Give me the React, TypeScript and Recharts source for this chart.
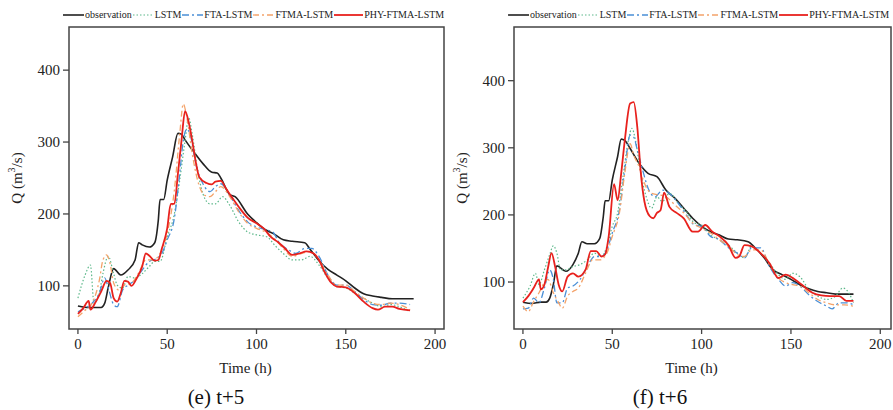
import React from "react";
import { LineChart, Line, XAxis, YAxis, ReferenceArea } from "recharts";

const SERIF = '"Liberation Serif", Tinos, "Times New Roman", "DejaVu Serif", serif';

const OBS_C = "#222222";
const LSTM_C = "#5cb88a";
const FTA_C = "#4a8fd6";
const FTMA_C = "#f4a36a";
const PHY_C = "#e8211d";

const X_TICKS = [0, 50, 100, 150, 200];
const Y_TICKS = [100, 200, 300, 400];

// (e) t+5  -- [time (h), Q]
const E_OBS = [[0,72],[5,70],[13,70],[15,76],[17,98],[20,124],[24,115],[28,122],[32,136],[34,160],[36,157],[40,154],[43,160],[45,191],[46,220],[48,220],[50,247],[53,279],[56,312],[58,311],[60,303],[65,286],[70,270],[75,258],[78,257],[80,250],[85,227],[88,224],[95,200],[100,188],[105,178],[110,172],[115,164],[120,162],[127,160],[130,151],[135,135],[140,123],[145,115],[150,107],[155,97],[160,89],[165,86],[170,84],[176,82],[188,82]];
const E_LSTM = [[0,83],[4,115],[7,129],[9,76],[12,90],[14,117],[17,141],[20,117],[22,101],[25,97],[28,113],[32,111],[36,117],[40,127],[43,134],[46,134],[50,168],[54,200],[57,247],[60,302],[62,334],[64,311],[67,261],[70,228],[74,214],[77,214],[81,224],[85,212],[90,189],[95,175],[100,171],[106,168],[110,157],[115,145],[120,136],[125,136],[130,141],[135,129],[140,111],[145,99],[150,97],[155,90],[160,83],[165,76],[170,71],[175,74],[180,71],[186,64]];
const E_FTA = [[0,64],[4,69],[8,76],[12,90],[15,111],[17,97],[20,74],[22,71],[25,94],[28,101],[32,108],[36,122],[40,134],[44,138],[47,145],[50,164],[54,194],[57,256],[59,302],[61,318],[63,309],[66,270],[70,242],[74,231],[77,238],[80,242],[85,226],[90,205],[95,189],[100,182],[105,178],[109,175],[113,159],[118,150],[122,145],[127,152],[131,152],[135,141],[140,115],[145,101],[150,101],[155,92],[160,81],[165,74],[170,73],[175,76],[180,76],[186,74]];
const E_FTMA = [[0,57],[4,66],[8,76],[12,108],[14,136],[16,143],[18,131],[20,104],[23,94],[26,101],[30,104],[34,118],[38,136],[42,136],[46,145],[50,173],[54,233],[57,311],[59,353],[61,334],[64,284],[67,247],[71,226],[74,224],[77,231],[80,238],[85,224],[90,203],[95,187],[100,180],[105,175],[110,166],[115,152],[120,141],[125,145],[130,148],[135,136],[140,115],[145,101],[150,101],[155,92],[160,83],[165,76],[170,74],[175,76],[180,74],[186,67]];
const E_PHY = [[0,61],[3,69],[6,79],[7,67],[10,78],[13,92],[16,107],[18,104],[20,83],[22,78],[24,90],[26,107],[28,106],[30,100],[33,111],[36,127],[38,145],[40,142],[43,135],[45,136],[47,152],[50,180],[52,214],[54,214],[56,256],[58,302],[60,343],[62,328],[64,302],[66,272],[68,251],[72,243],[75,241],[77,245],[80,246],[83,235],[86,224],[90,210],[95,195],[100,187],[104,180],[108,168],[112,161],[116,152],[120,143],[124,145],[128,148],[132,145],[135,136],[138,120],[142,104],[145,99],[150,98],[155,90],[160,78],[165,69],[168,67],[172,71],[176,71],[180,68],[186,66]];

// (f) t+6
const F_OBS = [[0,70],[5,68],[10,70],[13,70],[15,76],[17,96],[19,124],[24,116],[28,126],[31,143],[33,160],[36,157],[40,157],[43,165],[45,198],[46,221],[48,221],[50,252],[53,287],[55,313],[57,311],[60,299],[65,277],[70,262],[75,257],[80,237],[85,225],[90,210],[95,195],[100,183],[105,175],[110,170],[115,164],[120,163],[126,160],[130,151],[135,136],[140,118],[145,111],[150,104],[155,96],[160,90],[165,86],[170,84],[175,82],[185,82]];
const F_LSTM = [[0,76],[4,94],[7,113],[9,96],[12,118],[15,141],[17,154],[19,143],[21,118],[24,118],[28,123],[32,126],[36,133],[40,143],[44,138],[47,153],[50,183],[53,203],[56,257],[59,311],[61,329],[63,311],[66,262],[69,227],[72,210],[75,227],[78,220],[82,232],[87,217],[92,203],[96,188],[100,185],[105,170],[110,163],[115,155],[120,143],[124,136],[128,153],[133,143],[138,128],[143,111],[147,104],[151,113],[155,108],[160,89],[165,79],[170,74],[175,79],[179,91],[183,81],[185,69]];
const F_FTA = [[0,60],[3,61],[6,76],[9,69],[12,91],[15,118],[17,104],[19,69],[22,69],[25,91],[28,94],[32,104],[36,123],[40,138],[44,138],[47,148],[50,173],[54,207],[57,267],[60,319],[62,316],[64,297],[67,267],[70,240],[74,227],[78,237],[82,232],[87,217],[92,198],[96,185],[100,183],[105,168],[110,163],[115,151],[120,143],[124,136],[128,151],[133,151],[138,123],[143,104],[147,94],[151,99],[155,94],[160,81],[165,71],[170,64],[173,60],[177,69],[181,69],[185,66]];
const F_FTMA = [[0,64],[3,56],[6,71],[9,84],[12,99],[14,104],[17,84],[20,69],[22,61],[25,79],[28,86],[31,91],[35,113],[39,133],[43,133],[47,143],[50,168],[54,203],[57,262],[60,306],[62,289],[65,272],[68,247],[72,232],[76,230],[80,227],[85,215],[90,203],[95,188],[100,180],[105,173],[110,163],[115,153],[120,141],[124,138],[128,148],[133,148],[138,126],[143,106],[147,99],[151,96],[155,94],[160,84],[165,74],[170,69],[175,66],[180,66],[185,64]];
const F_PHY = [[0,70],[3,79],[6,91],[9,104],[10,89],[12,96],[14,121],[16,143],[18,123],[20,96],[22,86],[25,108],[28,113],[31,108],[35,118],[38,146],[41,146],[44,138],[46,141],[48,168],[51,246],[53,222],[55,262],[57,311],[60,366],[62,368],[64,331],[66,262],[68,220],[71,198],[73,195],[75,203],[77,207],[79,233],[82,212],[86,203],[90,195],[95,175],[98,175],[102,185],[106,175],[110,168],[115,155],[119,136],[121,138],[124,155],[128,153],[133,143],[138,128],[143,106],[147,111],[152,104],[157,94],[162,84],[167,80],[172,79],[177,79],[181,72],[185,72]];

const SERIES = [
  { key: "observation", color: OBS_C, width: 1.6, dash: undefined },
  { key: "LSTM", color: LSTM_C, width: 1.2, dash: "1.5 2" },
  { key: "FTA-LSTM", color: FTA_C, width: 1.3, dash: "7 3 2 3" },
  { key: "FTMA-LSTM", color: FTMA_C, width: 1.3, dash: "6 3 2 3" },
  { key: "PHY-FTMA-LSTM", color: PHY_C, width: 1.8, dash: undefined },
];

const toPts = (arr: number[][]) => arr.map(([t, q]) => ({ t, q }));

const QLabel = () => (
  <text x={17} y={178} transform="rotate(-90 17 178)" textAnchor="middle" dominantBaseline="central"
    fontSize={15} fill="#222">
    Q (m<tspan dy={-6} fontSize={10}>3</tspan><tspan dy={6}>/s)</tspan>
  </text>
);

function Legend({ left }: { left: number }) {
  return (
    <div style={{ position: "absolute", left, top: 9, display: "flex", alignItems: "center", fontSize: 10, color: "#222", whiteSpace: "nowrap" }}>
      {SERIES.map((s, i) => {
        const w = i === 4 ? 29 : 21;
        return (
          <div key={s.key} style={{ display: "flex", alignItems: "center" }}>
            <svg width={w} height={10}>
              <line x1={0} y1={5} x2={w} y2={5} stroke={s.color} strokeWidth={s.width} strokeDasharray={s.dash} />
            </svg>
            <span style={{ marginLeft: 1, marginRight: 1 }}>{s.key}</span>
          </div>
        );
      })}
    </div>
  );
}

const tickStyle = { fontSize: 15, fill: "#222" };

function Panel({ data, xMax, yDomain, left, width }: { data: number[][][]; xMax: number; yDomain: [number, number]; left: number; width: number }) {
  return (
    <div style={{ position: "absolute", left, top: 0 }}>
      <LineChart width={width} height={380}
        margin={{ top: 27, right: width === 450 ? 6 : 2, left: 19, bottom: 7 }}>
        <XAxis type="number" dataKey="t" domain={[-5, xMax]} ticks={X_TICKS} allowDataOverflow axisLine={false}
          tickSize={5} tickMargin={4} height={44} tick={tickStyle}
          tickLine={{ stroke: "#444", strokeWidth: 1.3 }}
          label={{ value: "Time (h)", position: "insideBottom", offset: 0, dx: -11, fontSize: 15, fill: "#222" }} />
        <YAxis type="number" domain={yDomain} ticks={Y_TICKS} allowDataOverflow axisLine={false} width={50}
          tickSize={6} tickMargin={3} tick={tickStyle}
          tickLine={{ stroke: "#444", strokeWidth: 1.3 }} label={<QLabel />} />
        <ReferenceArea x1={-5} x2={xMax} y1={yDomain[0]} y2={yDomain[1]} fill="none" stroke="#444" strokeWidth={1.5} />
        {SERIES.map((s, i) => (
          <Line key={s.key} data={toPts(data[i])} dataKey="q" name={s.key} type="monotone" stroke={s.color}
            strokeWidth={s.width} strokeDasharray={s.dash} dot={false} isAnimationActive={false} />
        ))}
      </LineChart>
    </div>
  );
}

export default function App() {
  return (
    <div style={{ position: "absolute", left: 0, top: 0, width: 893, height: 410, background: "#fff", overflow: "hidden", fontFamily: SERIF }}>
      <style>{`#root svg text, #root svg tspan { font-family: ${SERIF} !important; }`}</style>
      <Legend left={63} />
      <Legend left={508} />
      <Panel data={[E_OBS, E_LSTM, E_FTA, E_FTMA, E_PHY]} xMax={205} yDomain={[40, 460]} left={0} width={450} />
      <Panel data={[F_OBS, F_LSTM, F_FTA, F_FTMA, F_PHY]} xMax={206} yDomain={[30, 480]} left={445} width={448} />
      <div style={{ position: "absolute", left: 116, width: 200, top: 385, textAlign: "center", fontSize: 21, color: "#111" }}>(e) t+5</div>
      <div style={{ position: "absolute", left: 560, width: 200, top: 385, textAlign: "center", fontSize: 21, color: "#111" }}>(f) t+6</div>
    </div>
  );
}
